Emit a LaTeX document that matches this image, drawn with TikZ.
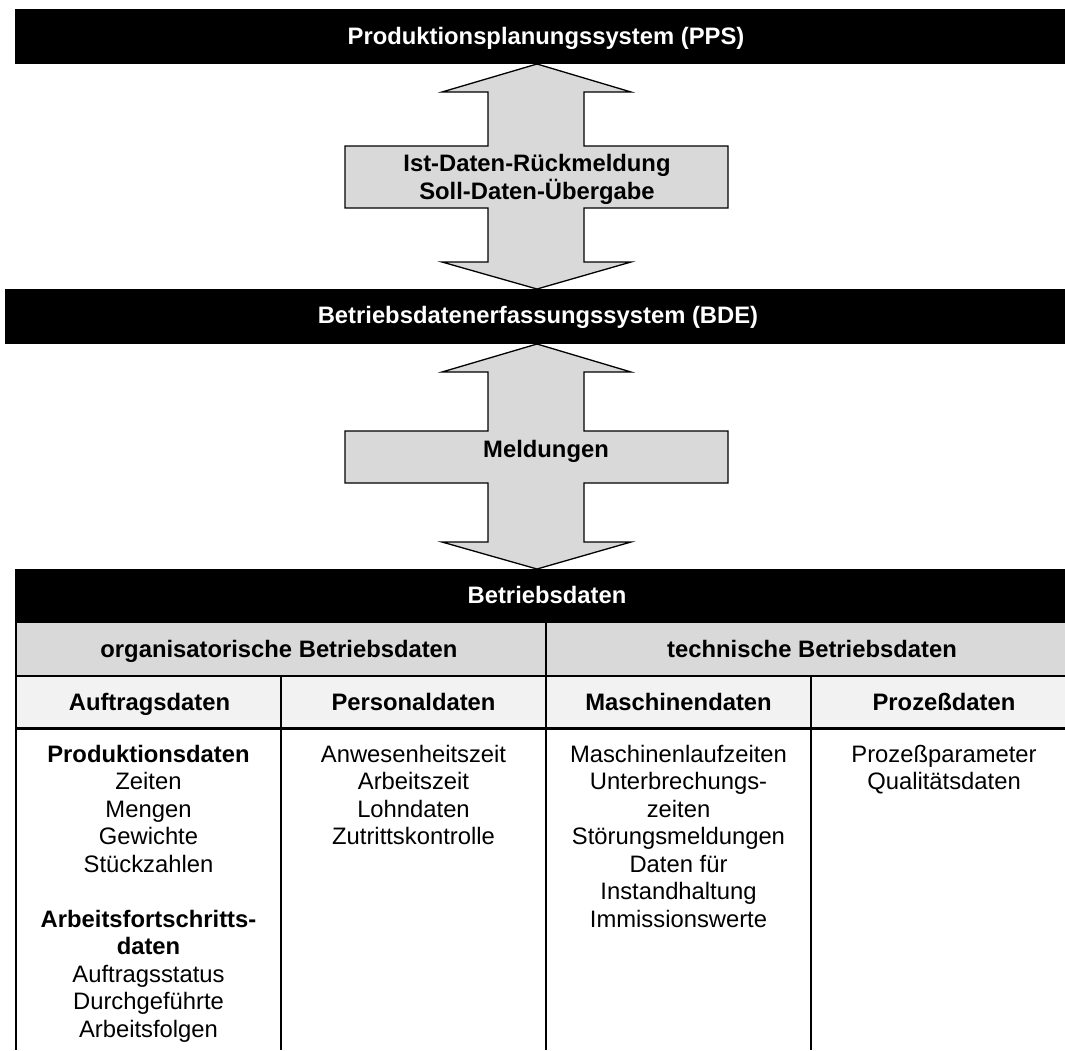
\documentclass[tikz,border=0pt]{standalone}
\usepackage{fontspec}
\setmainfont{Liberation Sans}
\definecolor{arrowgray}{RGB}{217,217,217}
\definecolor{rowgray}{RGB}{217,217,217}
\definecolor{rowlight}{RGB}{242,242,242}
\begin{document}
\begin{tikzpicture}[x=1pt,y=-1pt,
  every node/.style={inner sep=0pt, font=\fontsize{23.8}{27.5}\selectfont},
  barbox/.style={fill=black, draw=none},
  bartext/.style={anchor=base, text=white, font=\fontsize{23.8}{27.5}\selectfont\bfseries},
  celltext/.style={anchor=base, font=\fontsize{23.8}{27.5}\selectfont\bfseries},
  bodytext/.style={anchor=base, align=center},
  bigarrow/.style={fill=arrowgray, draw=black, line width=1.3pt, line join=miter},
  gridline/.style={draw=black, line width=1.3pt},
  heavyline/.style={draw=black, line width=2.2pt}
]
\useasboundingbox (0,0) rectangle (1065,1050);
\clip (0,0) rectangle (1065,1050);

% double arrows
\draw[bigarrow] (537,64) -- (631,92) -- (584,92) -- (584,146) -- (728,146) -- (728,208)
  -- (584,208) -- (584,262) -- (631,262) -- (537,289) -- (442,262) -- (488,262)
  -- (488,208) -- (345,208) -- (345,146) -- (488,146) -- (488,92) -- (442,92) -- cycle;
\draw[bigarrow] (537,344) -- (631,372) -- (584,372) -- (584,431) -- (728,431) -- (728,483)
  -- (584,483) -- (584,542) -- (631,542) -- (537,569) -- (442,542) -- (488,542)
  -- (488,483) -- (345,483) -- (345,431) -- (488,431) -- (488,372) -- (442,372) -- cycle;

% bars
\node[barbox, minimum width=1062pt, minimum height=55pt] (pps) at (546,36.5) {};
\node[bartext] (ppst) at (546,44) {Produktionsplanungssystem (PPS)};
\node[barbox, minimum width=1066pt, minimum height=55pt] (bde) at (538,316.5) {};
\node[bartext] (bdet) at (538,323) {Betriebsdatenerfassungssystem (BDE)};

% arrow labels (base = last line)
\node[celltext, align=center] (a1t) at (537,199) {Ist-Daten-Rückmeldung\\[0.5pt]Soll-Daten-Übergabe};
\node[celltext] (a2t) at (546,457) {Meldungen};

% table
\node[barbox, minimum width=1062pt, minimum height=54pt] (bd) at (547,596) {};
\node[bartext] (bdt) at (547,603) {Betriebsdaten};
\fill[rowgray] (16,623) rectangle (1078,676);
\fill[rowlight] (16,676) rectangle (1078,728);
\draw[gridline] (16,676) -- (1078,676);
\draw[heavyline] (16,728.5) -- (1078,728.5);
\draw[gridline] (16,569) -- (16,1050);
\draw[gridline] (546,623) -- (546,1050);
\draw[gridline] (281,676) -- (281,1050);
\draw[gridline] (811,676) -- (811,1050);

\node[celltext] (org) at (279,657) {organisatorische Betriebsdaten};
\node[celltext] (tech) at (812,657) {technische Betriebsdaten};
\node[celltext] (auf) at (149.5,710) {Auftragsdaten};
\node[celltext] (pers) at (413.5,710) {Personaldaten};
\node[celltext] (masch) at (678.5,710) {Maschinendaten};
\node[celltext] (proz) at (944,710) {Prozeßdaten};

% body columns (base anchor = baseline of last line)
\node[bodytext] (c1) at (148.5,1037) {\textbf{Produktionsdaten}\\Zeiten\\Mengen\\Gewichte\\Stückzahlen\\[27.5pt]\textbf{Arbeitsfortschritts-}\\\textbf{daten}\\Auftragsstatus\\Durchgeführte\\Arbeitsfolgen};
\node[bodytext] (c2) at (413.5,844.5) {Anwesenheitszeit\\Arbeitszeit\\Lohndaten\\Zutrittskontrolle};
\node[bodytext] (c3) at (678.5,927) {Maschinenlaufzeiten\\Unterbrechungs-\\zeiten\\Störungsmeldungen\\Daten für\\Instandhaltung\\Immissionswerte};
\node[bodytext] (c4) at (944,789.5) {Prozeßparameter\\Qualitätsdaten};
\end{tikzpicture}
\end{document}
